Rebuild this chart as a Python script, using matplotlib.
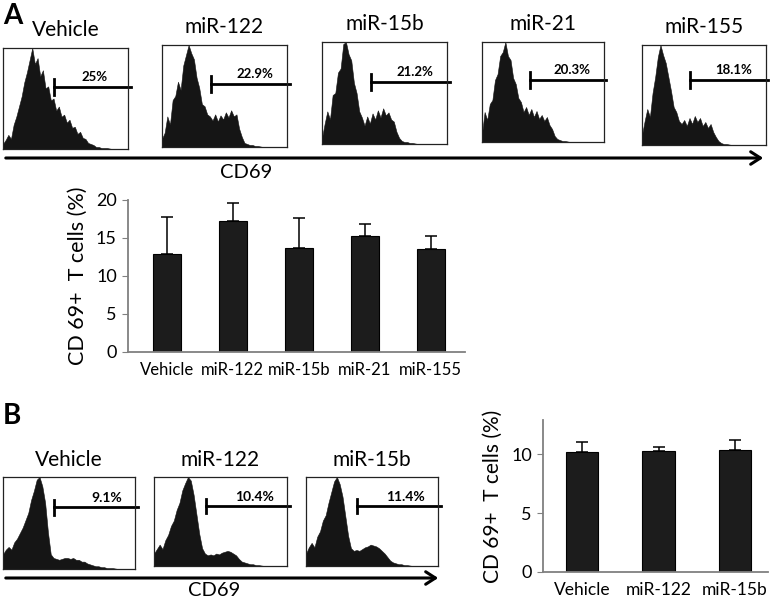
import numpy as np
import matplotlib
matplotlib.use('Agg')
import matplotlib.pyplot as plt
from matplotlib.patches import FancyArrowPatch

plt.rcParams['font.family'] = ['Lato', 'DejaVu Sans']

# data ---------------------------------------------------------------
a_groups = ['Vehicle', 'miR-122', 'miR-15b', 'miR-21', 'miR-155']
a_mean = [12.9, 17.2, 13.7, 15.3, 13.6]
a_err = [4.9, 2.4, 3.9, 1.6, 1.7]
a_gate_pct = ['25%', '22.9%', '21.2%', '20.3%', '18.1%']

b_groups = ['Vehicle', 'miR-122', 'miR-15b']
b_mean = [10.2, 10.3, 10.35]
b_err = [0.8, 0.3, 0.85]
b_gate_pct = ['9.1%', '10.4%', '11.4%']

# CD69 histogram profiles (48 channels, scaled to peak = 1)
a_hist = [
    [0.05, 0.09, 0.14, 0.10, 0.24, 0.32, 0.42, 0.52, 0.66, 0.76, 0.88, 1.00,
     0.84, 0.90, 0.72, 0.78, 0.60, 0.62, 0.48, 0.50, 0.38, 0.42, 0.32, 0.34,
     0.26, 0.29, 0.21, 0.22, 0.15, 0.17, 0.11, 0.10, 0.06, 0.05, 0.04, 0.02,
     0.02, 0.01, 0.01, 0.01, 0.005, 0, 0, 0, 0, 0, 0, 0],
    [0.08, 0.14, 0.30, 0.22, 0.46, 0.50, 0.64, 0.56, 0.80, 0.90, 1.00, 0.92,
     0.86, 0.68, 0.58, 0.42, 0.40, 0.32, 0.30, 0.26, 0.32, 0.25, 0.31, 0.27,
     0.34, 0.29, 0.36, 0.30, 0.32, 0.18, 0.10, 0.04, 0.03, 0.02, 0.02, 0.01,
     0.01, 0.005, 0, 0, 0, 0, 0, 0, 0, 0, 0, 0],
    [0.06, 0.20, 0.32, 0.24, 0.48, 0.50, 0.70, 0.74, 0.98, 1.00, 0.88, 0.82,
     0.60, 0.50, 0.32, 0.26, 0.18, 0.27, 0.20, 0.30, 0.24, 0.33, 0.26, 0.35,
     0.28, 0.31, 0.24, 0.22, 0.12, 0.06, 0.03, 0.02, 0.02, 0.01, 0.01, 0.005,
     0, 0, 0, 0, 0, 0, 0, 0, 0, 0, 0, 0],
    [0.08, 0.30, 0.22, 0.38, 0.42, 0.62, 0.68, 0.86, 0.90, 1.00, 0.86, 0.82,
     0.64, 0.58, 0.44, 0.40, 0.30, 0.35, 0.27, 0.33, 0.25, 0.31, 0.23, 0.27,
     0.21, 0.25, 0.17, 0.13, 0.06, 0.03, 0.02, 0.01, 0.01, 0.005, 0, 0,
     0, 0, 0, 0, 0, 0, 0, 0, 0, 0, 0, 0],
    [0.10, 0.24, 0.36, 0.28, 0.52, 0.68, 0.88, 1.00, 0.90, 0.82, 0.68, 0.54,
     0.38, 0.33, 0.24, 0.21, 0.25, 0.19, 0.27, 0.21, 0.29, 0.23, 0.27, 0.19,
     0.23, 0.17, 0.21, 0.13, 0.08, 0.04, 0.02, 0.01, 0.01, 0.005, 0, 0,
     0, 0, 0, 0, 0, 0, 0, 0, 0, 0, 0, 0],
]
b_hist = [
    [0.16, 0.21, 0.24, 0.21, 0.29, 0.33, 0.39, 0.45, 0.53, 0.61, 0.75, 0.85,
     0.97, 1.00, 0.90, 0.72, 0.40, 0.16, 0.12, 0.11, 0.10, 0.11, 0.12, 0.12,
     0.11, 0.12, 0.10, 0.10, 0.08, 0.08, 0.06, 0.05, 0.04, 0.03, 0.03, 0.02,
     0.02, 0.01, 0.01, 0.01, 0.005, 0, 0, 0, 0, 0, 0, 0],
    [0.14, 0.19, 0.24, 0.19, 0.29, 0.35, 0.45, 0.51, 0.63, 0.71, 0.85, 0.93,
     1.00, 0.96, 0.80, 0.58, 0.36, 0.20, 0.14, 0.12, 0.13, 0.12, 0.14, 0.13,
     0.15, 0.16, 0.17, 0.16, 0.14, 0.12, 0.08, 0.05, 0.04, 0.03, 0.02, 0.02,
     0.01, 0.01, 0.005, 0, 0, 0, 0, 0, 0, 0, 0, 0],
    [0.14, 0.21, 0.26, 0.21, 0.33, 0.39, 0.51, 0.57, 0.71, 0.83, 0.95, 1.00,
     0.92, 0.78, 0.56, 0.34, 0.20, 0.17, 0.18, 0.17, 0.19, 0.21, 0.22, 0.24,
     0.23, 0.22, 0.20, 0.17, 0.14, 0.10, 0.06, 0.04, 0.03, 0.02, 0.02, 0.01,
     0.01, 0.005, 0, 0, 0, 0, 0, 0, 0, 0, 0, 0],
]

# layout (pixel boxes: x0, y0, x1, y1) --------------------------------
W, H = 774, 599
a_boxes = [(3, 48, 128, 149), (162, 45, 287, 147), (322, 42, 447, 144),
           (482, 42, 604, 142), (642, 45, 766, 145)]
b_boxes = [(3, 477, 135, 569), (154, 477, 287, 566), (306, 477, 438, 566)]
a_gate_y = [0.61, 0.62, 0.61, 0.62, 0.65]
b_gate_y = [0.67, 0.67, 0.67]


def px_axes(fig, box):
    x0, y0, x1, y1 = box
    return fig.add_axes([x0 / W, 1 - y1 / H, (x1 - x0) / W, (y1 - y0) / H])


def draw_hist(ax, prof, gate_x, gate_y, pct, title, fs_pct, pct_x, pct_ha):
    ch = np.linspace(0, 1, len(prof))
    ax.fill_between(ch, 0, prof, color='#151515', lw=0.4, edgecolor='#151515')
    ax.set_xlim(0, 1)
    ax.set_ylim(0, 1.0)
    ax.set_xticks([])
    ax.set_yticks([])
    for s in ax.spines.values():
        s.set_linewidth(0.9)
        s.set_color('#222222')
    ax.plot([gate_x, 1.02], [gate_y, gate_y], color='k', lw=2, clip_on=False)
    ax.plot([gate_x, gate_x], [gate_y - 0.08, gate_y + 0.08], color='k', lw=2, clip_on=False)
    ax.text(pct_x, gate_y + 0.04, pct, ha=pct_ha, va='bottom', fontsize=fs_pct,
            fontweight='bold', transform=ax.transAxes)
    ax.text(0.5, 1.08, title, ha='center', va='bottom', fontsize=15,
            transform=ax.transAxes)


fig = plt.figure(figsize=(W / 100, H / 100), dpi=100)

for i, (prof, box, gy, pct, name) in enumerate(zip(a_hist, a_boxes, a_gate_y, a_gate_pct, a_groups)):
    ax = px_axes(fig, box)
    if i == 0:
        draw_hist(ax, prof, 0.41, gy, pct, name, 9.5, 0.73, 'center')
    else:
        draw_hist(ax, prof, 0.39, gy, pct, name, 9.5, 0.89, 'right')

for prof, box, gy, pct, name in zip(b_hist, b_boxes, b_gate_y, b_gate_pct, b_groups):
    ax = px_axes(fig, box)
    draw_hist(ax, prof, 0.39, gy, pct, name, 10, 0.9, 'right')

# CD69 arrows
for (x0, x1, y, tx, ty) in [(3, 766, 158, 246, 172), (3, 441, 578, 214, 591)]:
    arr = FancyArrowPatch((x0 / W, 1 - y / H), (x1 / W, 1 - y / H),
                          transform=fig.transFigure, arrowstyle='->,head_length=7,head_width=4.5',
                          color='k', lw=2.2)
    fig.patches.append(arr)
    fig.text(tx / W, 1 - ty / H, 'CD69', ha='center', va='center', fontsize=14.5)

fig.text(3 / W, 1 - 16 / H, 'A', fontsize=20, fontweight='bold', va='center', ha='left')
fig.text(3 / W, 1 - 416 / H, 'B', fontsize=20, fontweight='bold', va='center', ha='left')


def bar_panel(ax, groups, mean, err, ylim, yticks, fs_lab, fs_tick):
    x = np.arange(len(groups))
    ax.bar(x, mean, width=0.42, color='#1c1c1c', edgecolor='k', lw=0.8, zorder=2)
    ax.errorbar(x, mean, yerr=[np.zeros(len(err)), err], fmt='none', ecolor='k',
                elinewidth=1.1, capsize=4, capthick=1.1, zorder=1)
    ax.set_ylim(*ylim)
    ax.set_yticks(yticks)
    ax.set_xticks(x)
    ax.set_xticklabels(groups, fontsize=fs_tick)
    ax.tick_params(axis='x', length=0, pad=7)
    ax.tick_params(axis='y', length=4, color='#808080', labelsize=13, pad=4)
    for s in ['top', 'right']:
        ax.spines[s].set_visible(False)
    for s in ['left', 'bottom']:
        ax.spines[s].set_color('#808080')
        ax.spines[s].set_linewidth(1.3)
    ax.set_ylabel('CD 69+  T cells (%)', fontsize=fs_lab, labelpad=6)


ax_a = px_axes(fig, (128, 200, 465, 352))
bar_panel(ax_a, a_groups, a_mean, a_err, (0, 20), range(0, 21, 5), 15.5, 12)
ax_a.set_xlim(-0.59, 4.52)

ax_b = px_axes(fig, (543, 420, 768, 572))
bar_panel(ax_b, b_groups, b_mean, b_err, (0, 12.9), [0, 5, 10], 15, 12.5)
ax_b.set_xlim(-0.51, 2.43)

plt.savefig('out.png', dpi=100)
